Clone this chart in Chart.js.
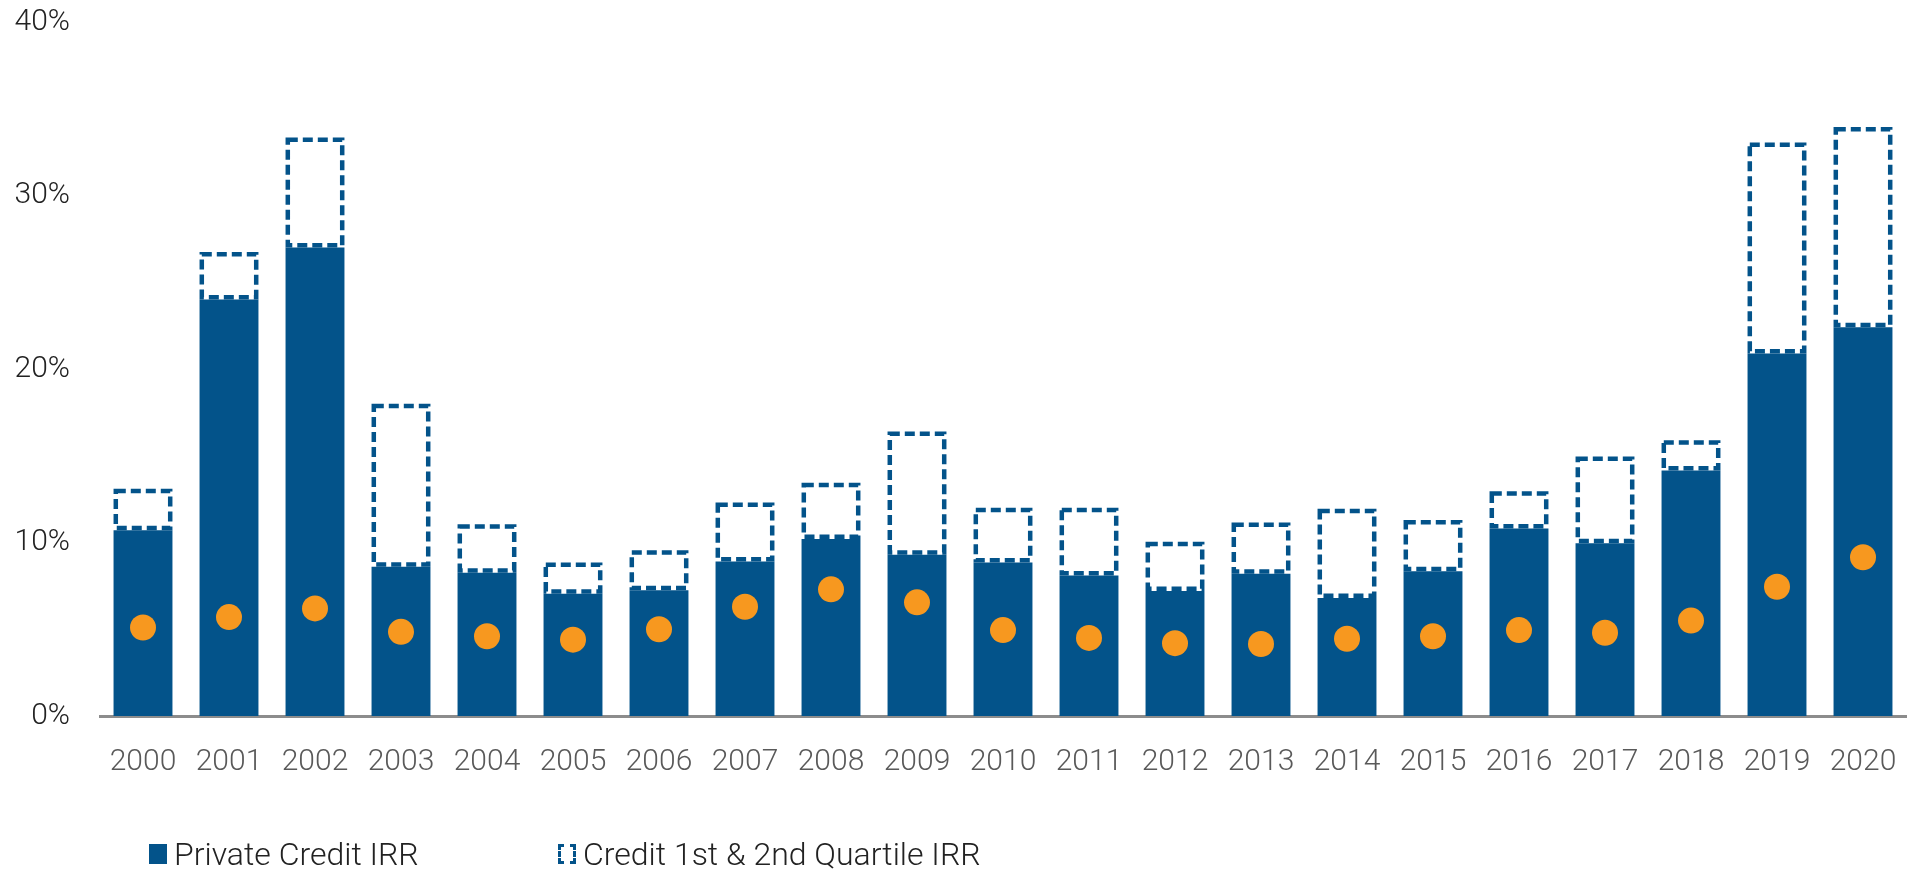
<!DOCTYPE html>
<html>
<head>
<meta charset="utf-8">
<script src="https://cdn.jsdelivr.net/npm/chart.js@4"></script>
<style>
  html, body { margin: 0; padding: 0; background: #fff; }
  #wrap { position: relative; width: 1919px; height: 871px; }
  .legend-item {
    position: absolute; top: 836px; height: 36px;
    display: flex; align-items: center;
    font-family: Roboto, sans-serif; font-weight: 300; font-size: 32px; color: #222;
    white-space: nowrap;
  }
  .legend-item .swatch { width: 18px; height: 20px; margin-right: 7px; box-sizing: border-box; }
  .legend-item .solid { background: #03538a; }
  .legend-item .dashed { border: 3px dashed #03538a; }
</style>
</head>
<body>
<div id="wrap">
  <canvas id="irrChart" width="1919" height="871"></canvas>
  <div class="legend-item" style="left:149px"><span class="swatch solid"></span><span id="lg0"></span></div>
  <div class="legend-item" style="left:558px"><span class="swatch dashed"></span><span id="lg1"></span></div>
</div>
<script>
// vintage years
const years = ['2000', '2001', '2002', '2003', '2004', '2005', '2006', '2007', '2008', '2009', '2010',
               '2011', '2012', '2013', '2014', '2015', '2016', '2017', '2018', '2019', '2020'];

// pooled private credit IRR (%)
const privateCreditIrr = [10.7, 24.0, 27.0, 8.6, 8.25, 7.05, 7.25, 8.9, 10.2, 9.3, 8.85,
                          8.1, 7.2, 8.2, 6.8, 8.35, 10.8, 9.95, 14.15, 20.9, 22.4];

// top of the 1st & 2nd quartile range (%), box runs from the pooled IRR up to here
const quartileTop = [13.1, 26.75, 33.35, 18.0, 11.05, 8.85, 9.55, 12.3, 13.45, 16.4, 12.0,
                     12.0, 10.05, 11.15, 11.95, 11.3, 12.95, 14.95, 15.9, 33.05, 33.95];

// median IRR markers (%)
const medianIrr = [5.1, 5.7, 6.2, 4.85, 4.6, 4.4, 5.0, 6.3, 7.3, 6.55, 4.95,
                   4.5, 4.2, 4.15, 4.45, 4.6, 4.95, 4.8, 5.5, 7.45, 9.15];

const yTicks = [0, 10, 20, 30, 40];

const seriesLabels = ['Private Credit IRR', 'Credit 1st & 2nd Quartile IRR'];

const BLUE = '#03538a';
const ORANGE = '#f7981f';

// bars can't take a dashed border, so stroke the quartile boxes ourselves
const dashedBoxes = {
  id: 'dashedBoxes',
  afterDatasetsDraw(chart) {
    const meta = chart.getDatasetMeta(1);
    const ctx = chart.ctx;
    const lw = 4.5;
    ctx.save();
    ctx.strokeStyle = BLUE;
    ctx.lineWidth = lw;
    ctx.setLineDash([10, 5]);
    meta.data.forEach(bar => {
      const { x, y, base, width } = bar.getProps(['x', 'y', 'base', 'width'], true);
      const top = Math.min(y, base), bottom = Math.max(y, base);
      ctx.strokeRect(x - width / 2 + lw / 2, top + lw / 2, width - lw, bottom - top - lw);
    });
    ctx.restore();
  }
};

const floating = years.map((y, i) => [privateCreditIrr[i], quartileTop[i]]);

new Chart(document.getElementById('irrChart'), {
  type: 'bar',
  data: {
    labels: years,
    datasets: [
      {
        label: seriesLabels[0],
        data: privateCreditIrr,
        backgroundColor: BLUE,
        borderWidth: 0,
        grouped: false,
        categoryPercentage: 1,
        barPercentage: 0.685,
        order: 2
      },
      {
        label: seriesLabels[1],
        data: floating,
        backgroundColor: 'rgba(0,0,0,0)',
        borderWidth: 0,
        grouped: false,
        categoryPercentage: 1,
        barPercentage: 0.685,
        order: 1
      },
      {
        type: 'line',
        label: 'Median IRR',
        data: medianIrr,
        showLine: false,
        pointRadius: 13,
        pointHoverRadius: 13,
        pointBackgroundColor: ORANGE,
        pointBorderWidth: 0,
        order: 0
      }
    ]
  },
  options: {
    responsive: false,
    animation: false,
    layout: { padding: { top: 0, right: 9, left: 0, bottom: 0 } },
    scales: {
      x: {
        grid: { display: false, drawTicks: false },
        border: { display: true, color: '#8c8c8c', width: 3 },
        ticks: {
          color: '#595959',
          padding: 28,
          maxRotation: 0,
          autoSkip: false,
          font: { family: 'Roboto', weight: '300', size: 30 }
        },
        afterFit(scale) {
          scale.height = 155;
          scale.paddingLeft = 0;
          scale.paddingRight = 0;
        }
      },
      y: {
        min: 0,
        max: 40,
        afterBuildTicks(scale) { scale.ticks = yTicks.map(v => ({ value: v })); },
        grid: { display: false, drawTicks: false },
        border: { display: false },
        ticks: {
          color: '#222',
          padding: 30,
          font: { family: 'Roboto', weight: '300', size: 30 },
          callback: v => v + '%'
        },
        afterFit(scale) {
          scale.width = 100;
          scale.paddingTop = 22;
          scale.paddingBottom = 0;
        }
      }
    },
    plugins: {
      legend: { display: false },
      tooltip: { enabled: false }
    }
  },
  plugins: [dashedBoxes]
});

document.getElementById('lg0').textContent = seriesLabels[0];
document.getElementById('lg1').textContent = seriesLabels[1];
</script>
</body>
</html>
